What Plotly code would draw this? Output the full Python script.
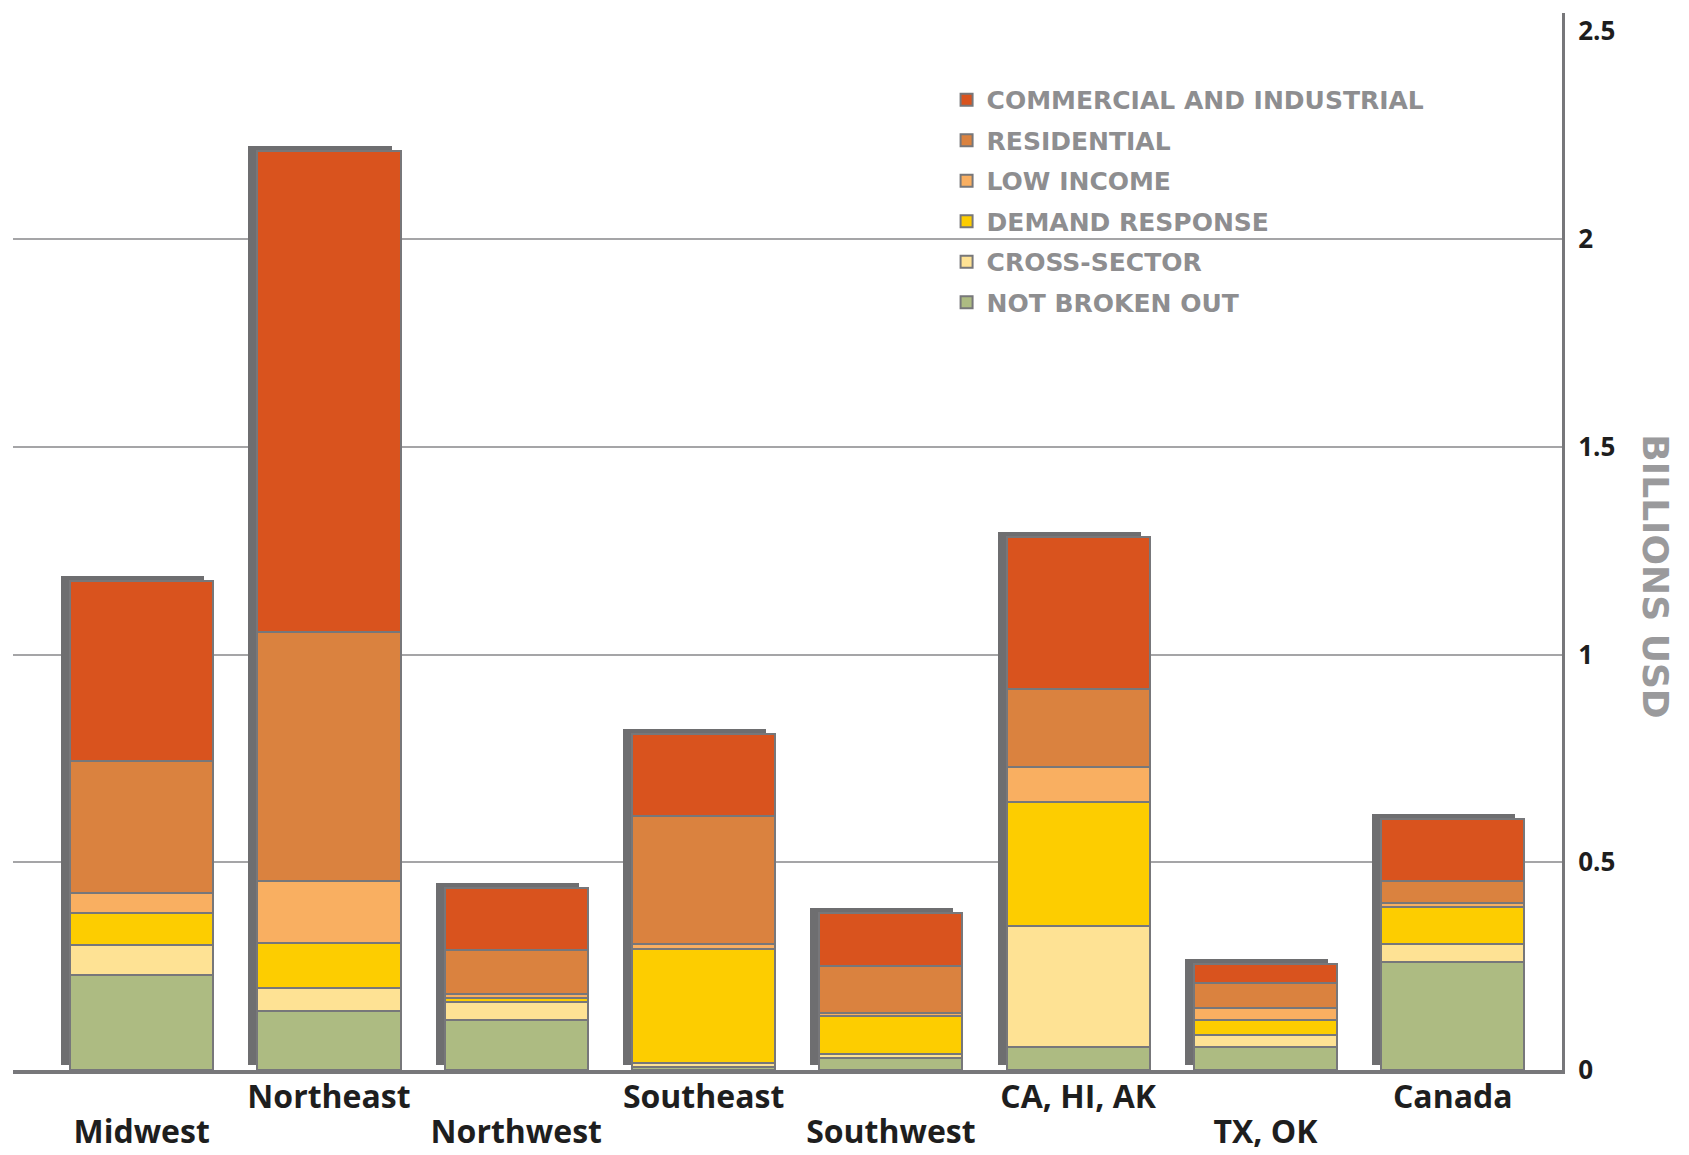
import plotly.graph_objects as go

regions = ["Midwest", "Northeast", "Northwest", "Southeast", "Southwest", "CA, HI, AK", "TX, OK", "Canada"]
upper_row = ["Northeast", "Southeast", "CA, HI, AK", "Canada"]
lower_row = ["Midwest", "Northwest", "Southwest", "TX, OK"]

not_broken_out = [0.229, 0.142, 0.121, 0.008, 0.030, 0.055, 0.055, 0.260]
cross_sector = [0.072, 0.055, 0.043, 0.008, 0.008, 0.291, 0.030, 0.044]
demand_response = [0.076, 0.108, 0.010, 0.276, 0.091, 0.299, 0.036, 0.088]
low_income = [0.050, 0.151, 0.008, 0.012, 0.008, 0.084, 0.029, 0.009]
residential = [0.316, 0.598, 0.106, 0.307, 0.113, 0.188, 0.059, 0.053]
commercial_industrial = [0.434, 1.157, 0.151, 0.198, 0.127, 0.367, 0.046, 0.151]

series = [
    ("NOT BROKEN OUT", not_broken_out, "#ADBB82"),
    ("CROSS-SECTOR", cross_sector, "#FEE294"),
    ("DEMAND RESPONSE", demand_response, "#FDCD00"),
    ("LOW INCOME", low_income, "#F9AF61"),
    ("RESIDENTIAL", residential, "#DA823F"),
    ("COMMERCIAL AND INDUSTRIAL", commercial_industrial, "#D9531E"),
]

y_ticks = [0, 0.5, 1, 1.5, 2, 2.5]
y_tick_text = ["0", "0.5", "1", "1.5", "2", "2.5"]
grid_values = [0.5, 1, 1.5, 2]

totals = [sum(v) for v in zip(*[s[1] for s in series])]

BAR_W = 0.764
SHADOW_DX = 0.048
SHADOW_DY = 0.012

fig = go.Figure()

# drop shadow behind each bar (main axes, drawn first)
fig.add_trace(go.Bar(
    x=regions, y=totals, base=SHADOW_DY, width=BAR_W, offset=-BAR_W / 2 - SHADOW_DX,
    marker=dict(color="#6E6E70", line=dict(width=0)),
    showlegend=False, hoverinfo="skip", xaxis="x", yaxis="y",
))

n = len(series)
for i, (name, vals, color) in enumerate(series):
    fig.add_trace(go.Bar(
        x=regions, y=vals, name=name, width=BAR_W,
        marker=dict(color=color, line=dict(color="#77777A", width=2)),
        legendgroup="g%d" % i, legendrank=n - i,
        xaxis="x2", yaxis="y2",
    ))

XR = [-0.687, 7.583]
YR = [0, 2.544]
label_font = dict(family="Open Sans", size=32, color="#1E1E1E", weight="bold")

fig.update_layout(
    width=1681, height=1147,
    margin=dict(l=5, r=127, t=5, b=85, autoexpand=False),
    paper_bgcolor="white", plot_bgcolor="white",
    barmode="stack",
    showlegend=True,
    legend=dict(
        x=0.6027, y=0.9395, xanchor="left", yanchor="top",
        traceorder="grouped", tracegroupgap=5,
        font=dict(family="DejaVu Sans", size=25, color="#8E8E90", weight="bold"),
        bgcolor="rgba(0,0,0,0)",
    ),
    xaxis=dict(
        type="category", range=XR, tickmode="array", tickvals=upper_row, ticktext=upper_row,
        showgrid=False, showline=True, linecolor="#77777A", linewidth=4,
        ticks="", ticklabelstandoff=-4, automargin=False,
        tickfont=label_font, zeroline=False,
    ),
    yaxis=dict(
        range=YR, side="right", tickmode="array", tickvals=y_ticks, ticktext=y_tick_text,
        showgrid=False,
        minor=dict(tickmode="array", tickvals=grid_values, showgrid=True,
                   gridcolor="#A5A5A7", gridwidth=2, ticks=""),
        showline=True, linecolor="#77777A", linewidth=3,
        ticks="", ticklabelstandoff=8, automargin=False,
        tickfont=dict(family="Open Sans", size=26, color="#1E1E1E", weight="bold"),
        zeroline=False,
    ),
    xaxis2=dict(
        type="category", overlaying="x", range=XR, tickmode="array",
        tickvals=lower_row, ticktext=lower_row,
        showgrid=False, showline=False, zeroline=False, ticks="",
        ticklabelstandoff=40, automargin=False, tickfont=label_font,
    ),
    yaxis2=dict(overlaying="y", range=YR, visible=False),
    annotations=[dict(
        text="BILLIONS USD", textangle=90, xref="paper", yref="paper",
        x=1.0607, y=0.467, xanchor="center", yanchor="middle", showarrow=False,
        font=dict(family="DejaVu Sans", size=36, color="#9A9A9C", weight="bold"),
    )],
)

fig.write_html("out.html")
